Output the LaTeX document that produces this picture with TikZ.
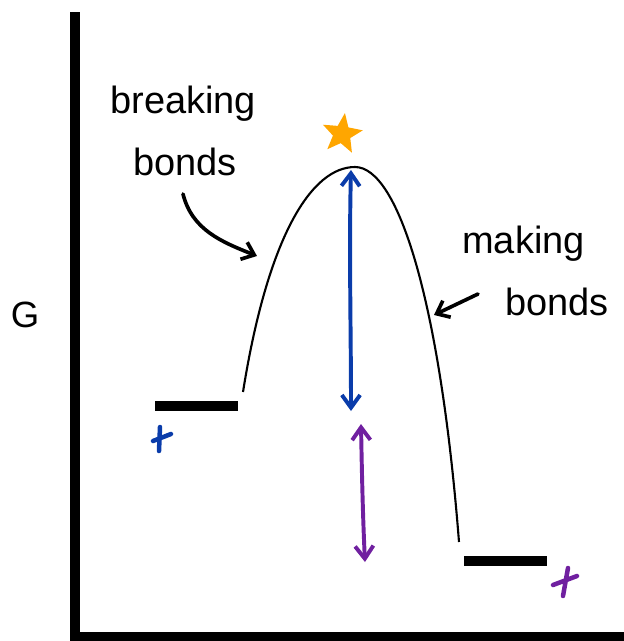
\documentclass[tikz,border=0pt]{standalone}
\usepackage{fontspec}
\setmainfont{Liberation Sans}
\usepackage{xcolor}
\usetikzlibrary{arrows.meta,positioning,calc,shapes.geometric}
\definecolor{gapblue}{RGB}{10,60,170}
\definecolor{gappurp}{RGB}{112,32,160}
\definecolor{tsorange}{RGB}{255,166,0}

\begin{document}
\begin{tikzpicture}[x=0.025cm, y=-0.025cm,
  level/.style={line width=7.8pt},
  axis/.style={line width=7.2pt},
  hand/.style={font=\fontsize{27}{30}\selectfont, inner sep=0pt},
  gap/.style={line width=2.8pt, line cap=round, {Straight Barb[length=9pt,width=13pt]}-{Straight Barb[length=9pt,width=13pt]}},
  note/.style={line width=2.6pt, line cap=round, -{Straight Barb[length=8pt,width=13pt]}}]
\useasboundingbox (0,0) rectangle (624,641);
% ---- axes
\coordinate (top) at (75,12);
\coordinate (origin) at (75,637);
\coordinate (right) at (630,637);
\draw[axis] (top) -- (origin) -- (right);
\node[font=\fontsize{26}{28}\selectfont, inner sep=0pt, anchor=south] (G) at (25,328) {G};
% ---- energy levels
\draw[level] (155,406) coordinate (rl) -- (238,406) coordinate (rr);
\draw[level] (464,561) coordinate (pl) -- (547,561) coordinate (pr);
% ---- the barrier
\coordinate (start) at (243,392);
\coordinate (peak) at (355,167);
\coordinate (end) at (459,542);
\draw[line width=1.5pt] (start) .. controls (268,235) and (312,167) .. (peak)
  .. controls (398,167) and (440,300) .. (end);
% ---- stars
\node[star, star points=5, star point ratio=2.3, fill=tsorange, draw=tsorange,
  line width=1.5pt, minimum size=26pt, inner sep=0pt, rotate=-8] (ts) at (342,134) {};
\draw[gapblue, line width=3.2pt, line cap=round] (160,427) -- (159,451)
  (153,441) -- (171,434);
\draw[gappurp, line width=3.2pt, line cap=round] (568,568) -- (563,596)
  (553,585) -- (577,576);
% ---- gaps
\coordinate (btop) at (351,170);
\coordinate (bbot) at (351,411);
\coordinate (ptop) at (361,424);
\coordinate (pbot) at (365,562);
\draw[gap, gapblue] (btop) .. controls (349,250) and (351,330) .. (bbot);
\draw[gap, gappurp] (ptop) .. controls (362,480) and (363,520) .. (pbot);
% ---- labels
\node[hand, anchor=south west] (brk) at (110,122) {breaking};
\node[hand, anchor=south west] (bnd1) at (133,176) {bonds};
\node[hand, anchor=south west] (mak) at (462,262) {making};
\node[hand, anchor=south west] (bnd2) at (505,316) {bonds};
\coordinate (breakfrom) at (183,194);
\coordinate (breakto) at (257,256);
\draw[note] (breakfrom) .. controls (192,230) and (222,242) .. (breakto);
\coordinate (makefrom) at (478,294);
\coordinate (maketo) at (434,315);
\draw[note] (makefrom) -- (maketo);
\end{tikzpicture}
\end{document}
